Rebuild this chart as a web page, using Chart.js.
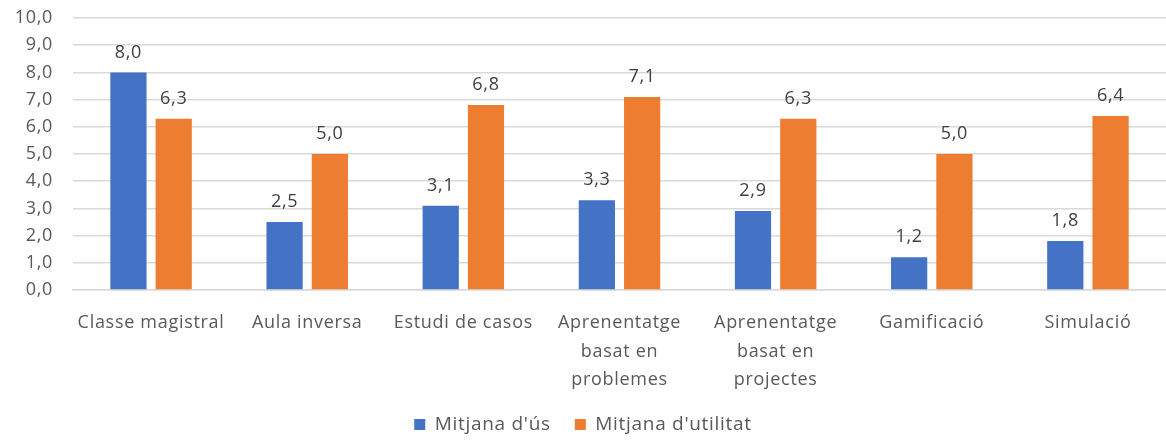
<!DOCTYPE html>
<html>
<head>
<meta charset="utf-8">
<script src="https://cdn.jsdelivr.net/npm/chart.js@4"></script>
<style>
  html, body { margin: 0; padding: 0; background: #fff; }
  #wrap { width: 1166px; height: 440px; }
</style>
</head>
<body>
<div id="wrap"><canvas id="myChart"></canvas></div>
<script>
const categories = [
  'Classe magistral',
  'Aula inversa',
  'Estudi de casos',
  ['Aprenentatge', 'basat en', 'problemes'],
  ['Aprenentatge', 'basat en', 'projectes'],
  'Gamificació',
  'Simulació'
]
const usValues = [8.0, 2.5, 3.1, 3.3, 2.9, 1.2, 1.8]
const utilitatValues = [6.3, 5.0, 6.8, 7.1, 6.3, 5.0, 6.4]
const seriesNames = ["Mitjana d'ús", "Mitjana d'utilitat"]

const textColor = '#595959'
const fontFamily = '"Open Sans", sans-serif'
const fontSize = 18

// a little extra tracking on all text
const spacing = {
  id: 'spacing',
  beforeLayout(chart) { chart.ctx.letterSpacing = '0.7px' },
  beforeDraw(chart) { chart.ctx.letterSpacing = '0.7px' }
}

// writes the value above each bar, with a comma decimal
const valueLabels = {
  id: 'valueLabels',
  afterDatasetsDraw(chart) {
    const ctx = chart.ctx
    ctx.save()
    ctx.font = fontSize + 'px ' + fontFamily
    ctx.fillStyle = '#404040'
    ctx.textAlign = 'center'
    ctx.textBaseline = 'bottom'
    chart.data.datasets.forEach((ds, i) => {
      chart.getDatasetMeta(i).data.forEach((bar, j) => {
        ctx.fillText(ds.data[j].toFixed(1).replace('.', ','), bar.x, bar.y - 11)
      })
    })
    ctx.restore()
  }
}

new Chart(document.getElementById('myChart').getContext('2d'), {
  type: 'bar',
  data: {
    labels: categories,
    datasets: [
      { label: seriesNames[0], data: usValues, backgroundColor: '#4472c4' },
      { label: seriesNames[1], data: utilitatValues, backgroundColor: '#ed7d31' }
    ]
  },
  options: {
    responsive: true,
    maintainAspectRatio: false,
    animation: false,
    layout: { padding: { top: 18, right: 0, left: 0, bottom: -4 } },
    datasets: { bar: { categoryPercentage: 0.58, barPercentage: 0.8 } },
    plugins: {
      legend: {
        position: 'bottom',
        labels: {
          color: textColor,
          font: { size: 19, family: fontFamily },
          boxWidth: 11,
          boxHeight: 11,
          padding: 24
        }
      },
      tooltip: { enabled: false }
    },
    scales: {
      y: {
        min: 0,
        max: 10,
        afterFit(scale) {
          scale.width = 73
          scale.paddingTop = 0
        },
        ticks: {
          stepSize: 1,
          autoSkip: false,
          color: textColor,
          font: { size: fontSize, family: fontFamily },
          padding: 20,
          callback: v => v.toFixed(1).replace('.', ',')
        },
        grid: { color: '#d9d9d9', drawTicks: false, lineWidth: 1.5 },
        border: { display: false }
      },
      x: {
        afterFit(scale) {
          scale.height = 101
        },
        ticks: {
          color: textColor,
          font: { size: fontSize, family: fontFamily, lineHeight: 1.57 },
          padding: 19,
          maxRotation: 0,
          autoSkip: false
        },
        grid: { display: false, drawTicks: false },
        border: { color: '#d9d9d9', width: 1.5 }
      }
    }
  },
  plugins: [spacing, valueLabels]
})
</script>
</body>
</html>
